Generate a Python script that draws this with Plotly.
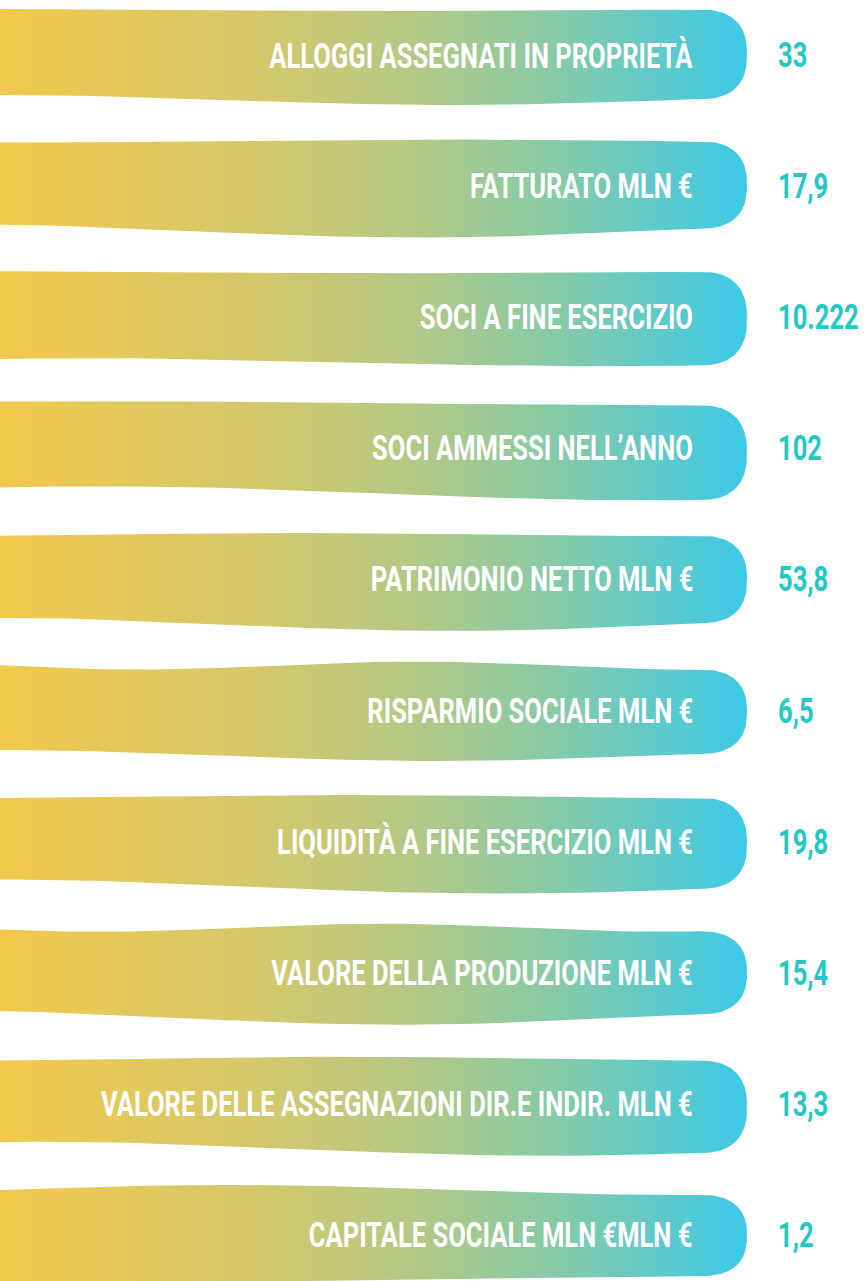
import numpy as np
import plotly.graph_objects as go

categories = [
    "ALLOGGI ASSEGNATI IN PROPRIETÀ",
    "FATTURATO MLN €",
    "SOCI A FINE ESERCIZIO",
    "SOCI AMMESSI NELL’ANNO",
    "PATRIMONIO NETTO MLN €",
    "RISPARMIO SOCIALE MLN €",
    "LIQUIDITÀ A FINE ESERCIZIO MLN €",
    "VALORE DELLA PRODUZIONE MLN €",
    "VALORE DELLE ASSEGNAZIONI DIR.E INDIR. MLN €",
    "CAPITALE SOCIALE MLN €MLN €",
]
values = ["33", "17,9", "10.222", "102", "53,8", "6,5", "19,8", "15,4", "13,3", "1,2"]

# styling
W, H = 864, 1281
PITCH = 131.1
Y0 = 55
HALF = 45
XR = 747          # rightmost point of each banner
CAP = 48          # horizontal size of rounded end
LABEL_X = 695
VALUE_X = 776
FONT = "Roboto, Open Sans, sans-serif"
FONT_SIZE = 36
SQUEEZE = 0.71    # horizontal condensing of the text
GRADIENT = [[0.0, "#F1C84B"], [0.35, "#D3C86B"], [0.55, "#B4C884"],
            [0.75, "#84CAA8"], [1.0, "#3CC9E8"]]
# per-row edge waves: (top amp, top crest x, top wavelength,
#                      bottom amp, bottom crest x, bottom wavelength)
WAVES = [
    (1.0, 400, 900, 5.0, 450, 900),
    (-1.5, 450, 900, 6.5, 420, 900),
    (1.0, 400, 900, 4.0, 600, 1000),
    (2.0, 700, 1200, 7.0, 650, 1100),
    (-1.5, 300, 700, 6.5, 450, 900),
    (4.0, 140, 550, 5.5, 440, 880),
    (-1.5, 350, 800, 7.0, 500, 1000),
    (4.0, 100, 560, 7.0, 400, 900),
    (-2.0, 350, 800, 7.0, 550, 1000),
    (-5.0, 230, 900, 4.0, 0, 1600),
]

fig = go.Figure()


def banner(i):
    yc = Y0 + PITCH * i
    at, xt, lt, ab, xb, lb = WAVES[i]
    xs = np.linspace(-5, XR - CAP, 80)
    ytop = yc - HALF + at * np.cos(2 * np.pi * (xs - xt) / lt)
    ybot = yc + HALF + ab * np.cos(2 * np.pi * (xs - xb) / lb)
    yt_end, yb_end = ytop[-1], ybot[-1]
    cyc = (yt_end + yb_end) / 2
    bh = (yb_end - yt_end) / 2
    t = np.linspace(-np.pi / 2, np.pi / 2, 60)
    n = 2.5
    cx = (XR - CAP) + CAP * np.sign(np.cos(t)) * np.abs(np.cos(t)) ** (2 / n)
    cy = cyc + bh * np.sign(np.sin(t)) * np.abs(np.sin(t)) ** (2 / n)
    X = np.concatenate([xs, cx, xs[::-1]])
    Y = np.concatenate([ytop, cy, ybot[::-1]])
    return X, Y, yc


for i, (cat, val) in enumerate(zip(categories, values)):
    X, Y, yc = banner(i)
    fig.add_trace(go.Scatter(
        x=X, y=Y, mode="lines", fill="toself", line=dict(width=0),
        fillgradient=dict(type="horizontal", colorscale=GRADIENT, start=0, stop=XR),
        hoverinfo="skip", showlegend=False))
    fig.add_annotation(x=LABEL_X, y=yc, text=cat, showarrow=False,
                       xanchor="right", yanchor="middle",
                       font=dict(family=FONT, size=FONT_SIZE, color="white", weight="bold"))
    fig.add_annotation(x=VALUE_X, y=yc, text=val, showarrow=False,
                       xanchor="left", yanchor="middle",
                       font=dict(family=FONT, size=FONT_SIZE, color="#22C9C4", weight="bold"))

fig.update_layout(
    width=W, height=H, margin=dict(l=0, r=0, t=0, b=0),
    paper_bgcolor="white", plot_bgcolor="white",
    xaxis=dict(range=[0, W], visible=False, fixedrange=True),
    yaxis=dict(range=[H, 0], visible=False, fixedrange=True),
)

post = """
document.body.style.margin = '0';
document.body.style.overflow = 'hidden';
var gd = document.getElementById('{plot_id}');
gd.querySelectorAll('text.annotation-text').forEach(function (t) {
  var bb = t.getBBox();
  var isValue = (t.style.fill || '').indexOf('255, 255, 255') < 0;
  var px = isValue ? bb.x : bb.x + bb.width;
  t.setAttribute('transform', 'translate(' + px + ',0) scale(%s,1) translate(' + (-px) + ',0)');
});
""" % SQUEEZE

fig.write_html("out.html", post_script=post, config={"staticPlot": True})
